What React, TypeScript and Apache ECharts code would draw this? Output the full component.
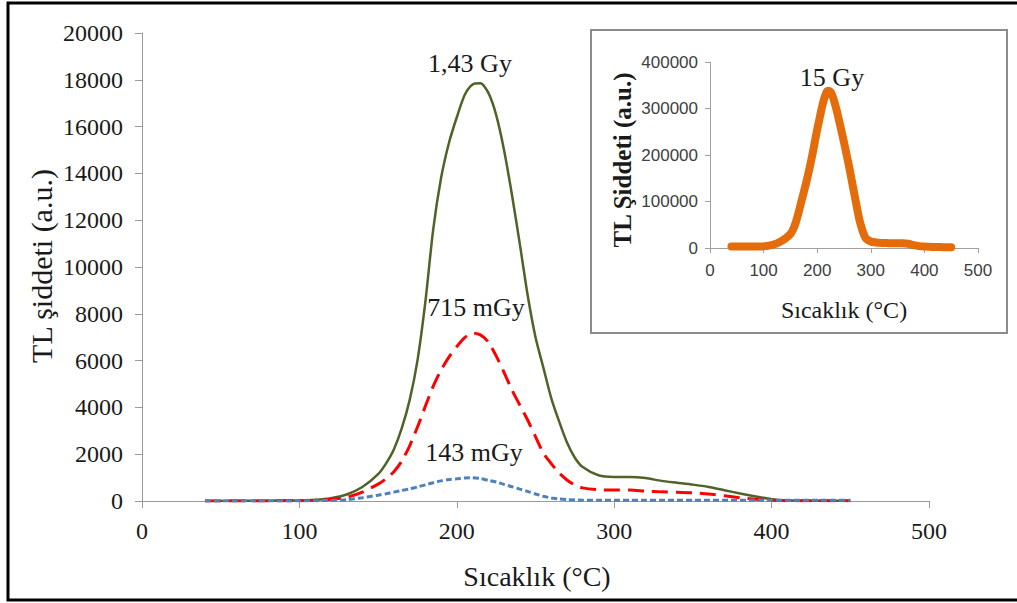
import React, { useEffect, useRef } from "react";
import * as echarts from "echarts";

// Temperature grid (°C)
const temperatures = [
  40, 50, 60, 70, 80, 90, 100, 110, 120, 130, 140, 150,
  155, 160, 165, 170, 175, 180, 185, 190, 195, 200, 205, 210, 215, 220, 225, 230,
  235, 240, 245, 250, 255, 260, 265, 270, 275,
  280, 290, 300, 310, 320, 330, 340, 350, 360, 370, 380, 390, 400, 410, 420, 430, 440, 450,
];

// 1,43 Gy
const dose143Gy = [
  0, 5, 10, 10, 15, 20, 30, 55, 120, 280, 600, 1150,
  1600, 2200, 3100, 4300, 6000, 8500, 11600, 13800, 15300, 16400, 17350, 17800, 17850, 17450, 16500, 15000,
  13100, 11000, 8800, 7000, 5700, 4400, 3400, 2500, 1850,
  1450, 1100, 1030, 1030, 980, 860, 780, 700, 600, 460, 320, 190, 80, 30, 15, 10, 10, 10,
];

// 715 mGy
const dose715mGy = [
  0, 5, 5, 5, 5, 10, 15, 30, 70, 160, 380, 720,
  950, 1250, 1700, 2350, 3160, 4050, 4900, 5600, 6150, 6600, 6980, 7180, 7100, 6800, 6200, 5500,
  4750, 4100, 3460, 2750, 2050, 1600, 1200, 900, 680,
  560, 480, 470, 470, 420, 390, 370, 350, 300, 220, 140, 70, 30, 15, 10, 10, 10, 10,
];

// 143 mGy
const dose143mGy = [
  0, 0, 0, 0, 0, 5, 5, 10, 25, 60, 140, 250,
  310, 380, 450, 520, 600, 690, 780, 860, 920, 950, 980, 990, 960, 880, 810, 710,
  610, 510, 410, 300, 200, 130, 90, 60, 45,
  35, 30, 30, 30, 30, 30, 30, 30, 30, 30, 30, 30, 30, 30, 30, 30, 30, 30,
];

// Inset: 15 Gy
const dose15Gy = [
  3000, 3000, 3000, 3000, 3000, 3000, 3500, 5000, 8000, 13000, 20000, 30000,
  40000, 55000, 75000, 98000, 120000, 143000, 168000, 195000, 225000, 255000, 282000, 308000, 328000, 338000, 336000, 322000,
  302000, 278000, 253000, 227000, 200000, 172000, 142000, 112000, 82000,
  55000, 22000, 14000, 12000, 11000, 10500, 10000, 10000, 10000, 9000, 6000, 4000, 3000, 2500, 2000, 2000, 1500, 1500,
];

const pairs = (ys: number[]) => temperatures.map((t, i) => [t, ys[i]]);

const SERIF = "'Liberation Serif', 'Times New Roman', serif";
const SANS = "'Liberation Sans', Arial, sans-serif";

export default function App() {
  const ref = useRef<HTMLDivElement>(null);

  useEffect(() => {
    if (!ref.current) return;
    const chart = echarts.init(ref.current, null, { renderer: "svg" });

    const mainAxisCommon = {
      axisLine: { show: true, lineStyle: { color: "#9a9a9a", width: 1 } },
      axisTick: { show: true, inside: false, length: 7, lineStyle: { color: "#9a9a9a" } },
      splitLine: { show: false },
      axisLabel: {
        fontFamily: SERIF,
        fontSize: 24,
        color: "#1a1a1a",
        formatter: (v: number) => String(v),
      },
    };
    const insetAxisCommon = {
      axisLine: { show: true, lineStyle: { color: "#a0a0a0", width: 1 } },
      axisTick: { show: true, inside: false, length: 5, lineStyle: { color: "#a0a0a0" } },
      splitLine: { show: false },
      axisLabel: {
        fontFamily: SANS,
        fontSize: 17,
        color: "#404040",
        formatter: (v: number) => String(v),
      },
    };

    chart.setOption({
      animation: false,
      backgroundColor: "#ffffff",
      grid: [
        { left: 142, top: 33, right: 88, bottom: 102, outerBoundsMode: "none" },
        { left: 710, top: 62, right: 39, bottom: 355, outerBoundsMode: "none" },
      ],
      xAxis: [
        {
          ...mainAxisCommon,
          type: "value",
          gridIndex: 0,
          min: 0,
          max: 500,
          interval: 100,
          axisLabel: { ...mainAxisCommon.axisLabel, margin: 18 },
        },
        {
          ...insetAxisCommon,
          type: "value",
          gridIndex: 1,
          min: 0,
          max: 500,
          interval: 100,
          axisLabel: { ...insetAxisCommon.axisLabel, margin: 14 },
        },
      ],
      yAxis: [
        {
          ...mainAxisCommon,
          type: "value",
          gridIndex: 0,
          min: 0,
          max: 20000,
          interval: 2000,
          axisLabel: { ...mainAxisCommon.axisLabel, margin: 19 },
        },
        {
          ...insetAxisCommon,
          type: "value",
          gridIndex: 1,
          min: 0,
          max: 400000,
          interval: 100000,
          axisLabel: { ...insetAxisCommon.axisLabel, margin: 12 },
        },
      ],
      series: [
        {
          name: "1,43 Gy",
          type: "line",
          xAxisIndex: 0,
          yAxisIndex: 0,
          data: pairs(dose143Gy),
          showSymbol: false,
          smooth: 0.25,
          lineStyle: { color: "#4F6228", width: 2.5 },
          z: 3,
        },
        {
          name: "715 mGy",
          type: "line",
          xAxisIndex: 0,
          yAxisIndex: 0,
          data: pairs(dose715mGy),
          showSymbol: false,
          smooth: 0.25,
          lineStyle: { color: "#FF0000", width: 3, type: [16, 8] },
          z: 4,
        },
        {
          name: "143 mGy",
          type: "line",
          xAxisIndex: 0,
          yAxisIndex: 0,
          data: pairs(dose143mGy),
          showSymbol: false,
          smooth: 0.25,
          lineStyle: { color: "#4F81BD", width: 3, type: [6, 3] },
          z: 5,
        },
        {
          name: "15 Gy",
          type: "line",
          xAxisIndex: 1,
          yAxisIndex: 1,
          data: pairs(dose15Gy),
          showSymbol: false,
          smooth: 0.35,
          lineStyle: { color: "#E46C0A", width: 8, cap: "round", join: "round" },
          z: 5,
        },
      ],
      graphic: [
        {
          type: "rect",
          z: -10,
          silent: true,
          shape: { x: 8, y: 3, width: 1100, height: 597 },
          style: { fill: "none", stroke: "#000000", lineWidth: 3 },
        },
        {
          type: "rect",
          z: -10,
          silent: true,
          shape: { x: 591, y: 30, width: 416, height: 303 },
          style: { fill: "none", stroke: "#8c8c8c", lineWidth: 2 },
        },
        {
          type: "text",
          x: 537,
          y: 576,
          style: {
            text: "Sıcaklık (°C)",
            font: `28px ${SERIF}`,
            fill: "#1a1a1a",
            textAlign: "center",
            textVerticalAlign: "middle",
          },
        },
        {
          type: "text",
          x: 41,
          y: 266,
          rotation: Math.PI / 2,
          style: {
            text: "TL şiddeti (a.u.)",
            font: `30px ${SERIF}`,
            fill: "#1a1a1a",
            textAlign: "center",
            textVerticalAlign: "middle",
          },
        },
        {
          type: "text",
          x: 844,
          y: 310,
          style: {
            text: "Sıcaklık (°C)",
            font: `24px ${SERIF}`,
            fill: "#1a1a1a",
            textAlign: "center",
            textVerticalAlign: "middle",
          },
        },
        {
          type: "text",
          x: 622,
          y: 160,
          rotation: Math.PI / 2,
          style: {
            text: "TL Şiddeti (a.u.)",
            font: `bold 25px ${SERIF}`,
            fill: "#1a1a1a",
            textAlign: "center",
            textVerticalAlign: "middle",
          },
        },
        {
          type: "text",
          x: 470,
          y: 63,
          style: {
            text: "1,43 Gy",
            font: `26px ${SERIF}`,
            fill: "#1a1a1a",
            textAlign: "center",
            textVerticalAlign: "middle",
          },
        },
        {
          type: "text",
          x: 476,
          y: 307,
          style: {
            text: "715 mGy",
            font: `26px ${SERIF}`,
            fill: "#1a1a1a",
            textAlign: "center",
            textVerticalAlign: "middle",
          },
        },
        {
          type: "text",
          x: 474,
          y: 452,
          style: {
            text: "143 mGy",
            font: `26px ${SERIF}`,
            fill: "#1a1a1a",
            textAlign: "center",
            textVerticalAlign: "middle",
          },
        },
        {
          type: "text",
          x: 832,
          y: 77,
          style: {
            text: "15 Gy",
            font: `26px ${SERIF}`,
            fill: "#1a1a1a",
            textAlign: "center",
            textVerticalAlign: "middle",
          },
        },
      ],
    });

    return () => {
      chart.dispose();
    };
  }, []);

  return (
    <div
      ref={ref}
      style={{ position: "fixed", left: 0, top: 0, width: 1017, height: 603, background: "#fff" }}
    />
  );
}
